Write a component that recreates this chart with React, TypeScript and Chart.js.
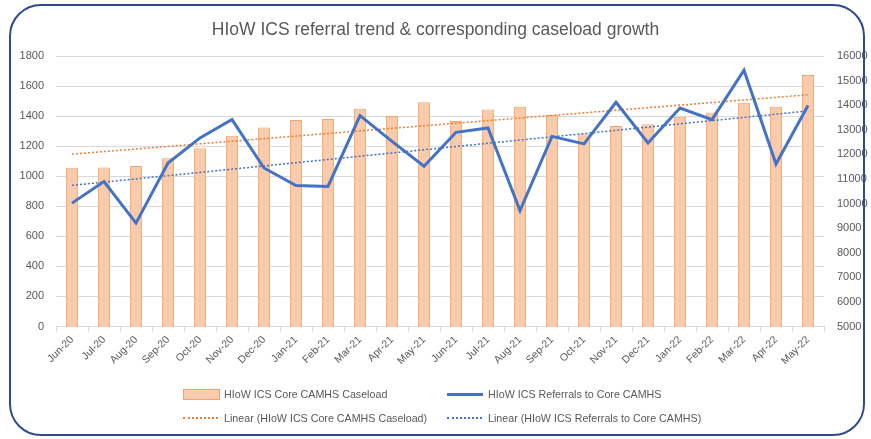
import React, { useEffect, useRef } from "react";
import { Chart, registerables } from "chart.js";
Chart.register(...registerables);

const months = [
  "Jun-20", "Jul-20", "Aug-20", "Sep-20", "Oct-20", "Nov-20", "Dec-20", "Jan-21",
  "Feb-21", "Mar-21", "Apr-21", "May-21", "Jun-21", "Jul-21", "Aug-21", "Sep-21",
  "Oct-21", "Nov-21", "Dec-21", "Jan-22", "Feb-22", "Mar-22", "Apr-22", "May-22",
];

// Caseload (right axis)
const caseload = [
  11460, 11470, 11530, 11840, 12250, 12760, 13090, 13400,
  13440, 13850, 13560, 14120, 13360, 13820, 13940, 13600,
  12820, 13150, 13220, 13530, 13700, 14100, 13940, 15230,
];

// Referrals (left axis)
const referrals = [
  821, 965, 688, 1088, 1255, 1377, 1055, 938,
  932, 1403, 1232, 1066, 1292, 1321, 772, 1265,
  1215, 1492, 1221, 1454, 1377, 1705, 1081, 1470,
];

const TITLE = "HIoW ICS referral trend & corresponding caseload growth";
const CASELOAD_LABEL = "HIoW ICS Core CAMHS Caseload";
const REFERRALS_LABEL = "HIoW ICS Referrals to Core CAMHS";
const CASELOAD_TREND_LABEL = "Linear (HIoW ICS Core CAMHS Caseload)";
const REFERRALS_TREND_LABEL = "Linear (HIoW ICS Referrals to Core CAMHS)";

function linearTrend(values: number[]): number[] {
  const n = values.length;
  let sx = 0, sy = 0, sxy = 0, sxx = 0;
  values.forEach((v, i) => {
    sx += i; sy += v; sxy += i * v; sxx += i * i;
  });
  const slope = (n * sxy - sx * sy) / (n * sxx - sx * sx);
  const icpt = (sy - slope * sx) / n;
  return values.map((_, i) => icpt + slope * i);
}

const FONT = "'Liberation Sans', Arial, sans-serif";
const TEXT = "#595959";
const ORANGE = "#ED7D31";
const BAR_BORDER = "#F2A56F";
const ORANGE_FILL = "#F8CBAD";
const BLUE = "#4472C4";

export default function App() {
  const ref = useRef<HTMLCanvasElement | null>(null);

  useEffect(() => {
    if (!ref.current) return;
    const chart = new Chart(ref.current, {
      type: "bar",
      data: {
        labels: months,
        datasets: [
          {
            type: "line",
            label: REFERRALS_LABEL,
            data: referrals,
            yAxisID: "yL",
            borderColor: BLUE,
            backgroundColor: BLUE,
            borderWidth: 3,
            pointRadius: 0,
            tension: 0,
            order: 1,
          } as any,
          {
            type: "line",
            label: REFERRALS_TREND_LABEL,
            data: linearTrend(referrals),
            yAxisID: "yL",
            borderColor: BLUE,
            borderWidth: 1.5,
            borderDash: [2, 2],
            pointRadius: 0,
            order: 2,
          } as any,
          {
            type: "line",
            label: CASELOAD_TREND_LABEL,
            data: linearTrend(caseload),
            yAxisID: "yR",
            borderColor: ORANGE,
            borderWidth: 1.5,
            borderDash: [2, 2],
            pointRadius: 0,
            order: 3,
          } as any,
          {
            type: "bar",
            label: CASELOAD_LABEL,
            data: caseload,
            yAxisID: "yR",
            backgroundColor: ORANGE_FILL,
            borderColor: BAR_BORDER,
            borderWidth: 1,
            categoryPercentage: 1,
            barPercentage: 0.38,
            order: 4,
          } as any,
        ],
      },
      options: {
        responsive: false,
        animation: false,
        layout: { padding: { left: 0, right: 0, top: 0, bottom: 60 } },
        plugins: {
          legend: { display: false },
          tooltip: { enabled: false },
          title: {
            display: true,
            text: TITLE,
            color: TEXT,
            font: { family: FONT, size: 17.5, weight: "normal" },
            padding: { top: 19.5, bottom: 15.5 },
          },
        },
        scales: {
          x: {
            offset: true,
            grid: {
              display: true,
              drawOnChartArea: false,
              drawTicks: true,
              tickLength: 5,
              color: "#D9D9D9",
              offset: true,
            },
            border: { display: true, color: "#D9D9D9" },
            ticks: {
              color: TEXT,
              font: { family: FONT, size: 10.5 },
              maxRotation: 45,
              minRotation: 45,
              padding: 2,
              autoSkip: false,
            },
            afterFit: (s: any) => { s.height = 52.5; },
          },
          yL: {
            position: "left",
            min: 0,
            max: 1800,
            ticks: {
              stepSize: 200,
              color: TEXT,
              font: { family: FONT, size: 11 },
              padding: 12,
              callback: (v: any) => String(v),
            },
            grid: { color: "#D9D9D9", drawTicks: false },
            border: { display: false },
            afterFit: (s: any) => { s.width = 56; },
          },
          yR: {
            position: "right",
            min: 5000,
            max: 16000,
            ticks: {
              stepSize: 1000,
              color: TEXT,
              font: { family: FONT, size: 11 },
              padding: 13,
              callback: (v: any) => String(v),
            },
            grid: { drawOnChartArea: false, drawTicks: false },
            border: { display: false },
            afterFit: (s: any) => { s.width = 47; },
          },
        },
      },
    });
    return () => chart.destroy();
  }, []);

  const legendText: React.CSSProperties = {
    fontFamily: FONT,
    fontSize: 10.7,
    color: TEXT,
    whiteSpace: "nowrap",
    marginLeft: 4,
  };
  const item = (marker: React.ReactNode, text: string, left: number, top: number) => (
    <div
      style={{
        position: "absolute",
        left,
        top,
        height: 14,
        display: "flex",
        alignItems: "center",
      }}
    >
      <div style={{ width: 37, display: "flex", alignItems: "center" }}>{marker}</div>
      <span style={legendText}>{text}</span>
    </div>
  );

  return (
    <div style={{ position: "fixed", left: 0, top: 0, width: 871, height: 439, background: "#fff" }}>
      <canvas ref={ref} width={871} height={439} style={{ position: "absolute", left: 0, top: 0 }} />
      <div
        style={{
          position: "absolute",
          left: 9,
          top: 4,
          width: 856,
          height: 432,
          border: "2px solid #2F4B8F",
          borderRadius: 32,
          boxSizing: "border-box",
          pointerEvents: "none",
        }}
      />
      {item(
        <div style={{ width: 35, height: 9, background: ORANGE_FILL, border: `1px solid ${BAR_BORDER}` }} />,
        CASELOAD_LABEL, 183, 387
      )}
      {item(
        <div style={{ width: 36, height: 3, background: BLUE }} />,
        REFERRALS_LABEL, 447, 387
      )}
      {item(
        <div style={{ width: 35, borderTop: `2px dotted ${ORANGE}` }} />,
        CASELOAD_TREND_LABEL, 183, 411
      )}
      {item(
        <div style={{ width: 35, borderTop: `2px dotted ${BLUE}` }} />,
        REFERRALS_TREND_LABEL, 447, 411
      )}
    </div>
  );
}
